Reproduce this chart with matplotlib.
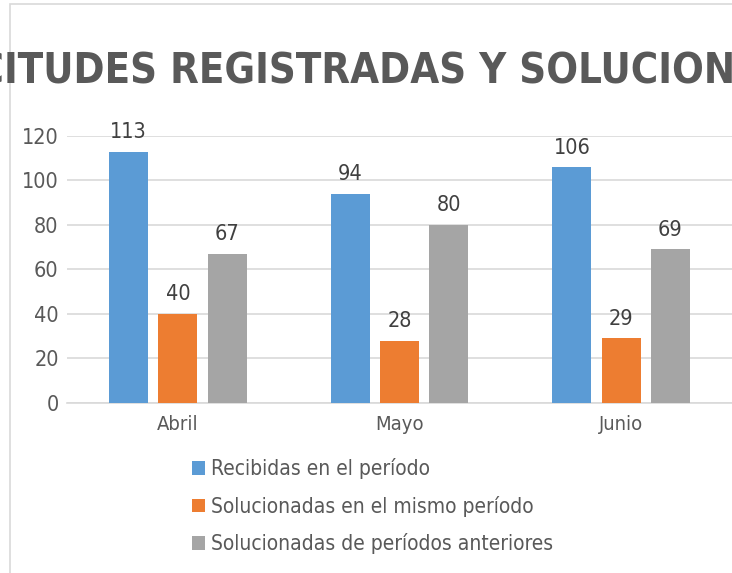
import matplotlib.pyplot as plt
from matplotlib.patches import Rectangle
import numpy as np

months = ["Abril", "Mayo", "Junio"]
recibidas = [113, 94, 106]
solucionadas_mismo = [40, 28, 29]
solucionadas_anteriores = [67, 80, 69]
series_names = ["Recibidas en el período",
                "Solucionadas en el mismo período",
                "Solucionadas de períodos anteriores"]
colors = ["#5B9BD5", "#ED7D31", "#A5A5A5"]
yticks = [0, 20, 40, 60, 80, 100, 120]
title = "SOLICITUDES REGISTRADAS Y SOLUCIONADAS"

txt = "#595959"
font = dict(family="DejaVu Sans", fontstretch="condensed")


def main():
    fig = plt.figure(figsize=(7.32, 5.73), dpi=100)
    ax = fig.add_axes([0.0915, 0.2967, 0.9085, 0.466])

    x = np.arange(len(months))
    width = 0.176
    step = 0.222
    series = [recibidas, solucionadas_mismo, solucionadas_anteriores]
    for i, vals in enumerate(series):
        pos = x + (i - 1) * step
        bars = ax.bar(pos, vals, width, color=colors[i], label=series_names[i], zorder=3)
        for b, v in zip(bars, vals):
            ax.text(b.get_x() + b.get_width() / 2, v + 4.3, str(v), ha="center",
                    va="bottom", fontsize=15.5, color="#404040", **font)

    ax.set_xlim(-0.5, 2.5)
    ax.set_ylim(0, 120)
    ax.set_yticks(yticks)
    ax.set_yticklabels([str(t) for t in yticks], fontsize=15.5, color=txt, **font)
    ax.set_xticks(x)
    ax.set_xticklabels(months, fontsize=14.5, color=txt, **font)
    ax.tick_params(axis="both", length=0)
    ax.tick_params(axis="y", pad=6)
    ax.tick_params(axis="x", pad=9)
    ax.grid(axis="y", color="#D9D9D9", linewidth=1.2, zorder=0)
    for s in ["top", "right", "left"]:
        ax.spines[s].set_visible(False)
    ax.spines["bottom"].set_color("#D9D9D9")
    ax.spines["bottom"].set_linewidth(1.2)

    # title is wider than the figure, same as in the original export
    fig.text(0.5, 0.876, title, ha="center", va="center", fontsize=30,
             fontweight="bold", color=txt, **font)

    leg = fig.legend(loc="upper left", bbox_to_anchor=(0.2505, 0.215), frameon=False,
                     handlelength=0.65, handleheight=0.65, handletextpad=0.28,
                     labelspacing=0.8, borderaxespad=0,
                     prop=dict(size=15, family="DejaVu Sans", stretch="condensed"))
    for t in leg.get_texts():
        t.set_color(txt)

    fig.patches.append(Rectangle((10 / 732, -0.1), 1.2, 1.1 - 4 / 573,
                                 transform=fig.transFigure, fill=False,
                                 edgecolor="#D9D9D9", linewidth=1.2))

    fig.savefig("out.png", dpi=100)


if __name__ == '__main__':
    main()
